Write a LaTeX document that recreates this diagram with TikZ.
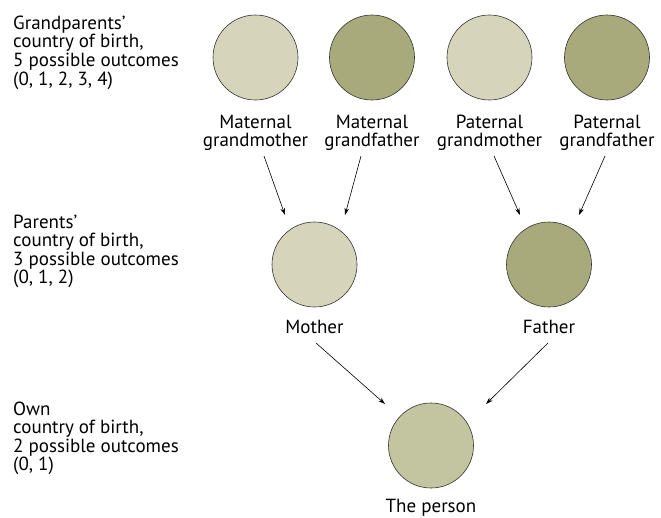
\documentclass[tikz,border=0pt]{standalone}
\usepackage{fontspec}
\setmainfont{PT Sans}
\usetikzlibrary{arrows.meta}
\definecolor{light}{HTML}{D6D5BC}
\definecolor{dark}{HTML}{A9AA7C}
\definecolor{mid}{HTML}{C3C4A0}
\begin{document}
\begin{tikzpicture}[x=1pt,y=-1pt,
  person/.style={circle,draw=black!80,line width=0.6pt,minimum size=85pt,inner sep=0pt},
  lbl/.style={align=center,anchor=base,font=\fontsize{19}{18.4}\selectfont,inner sep=0pt},
  side/.style={align=left,anchor=base west,font=\fontsize{19}{18.6}\selectfont,inner sep=0pt},
  arr/.style={-{Stealth[length=7pt,width=4.5pt]},line width=0.6pt}]
\useasboundingbox (0,0) rectangle (661,517);
% top row
\node[person,fill=light] (mgm) at (255.5,57.5) {};
\node[person,fill=dark] (mgf) at (372,57.5) {};
\node[person,fill=light] (pgm) at (489.5,57.5) {};
\node[person,fill=dark] (pgf) at (607,57.5) {};
\node[lbl] (lmgm) at (255.5,146.7) {Maternal\\grandmother};
\node[lbl] (lmgf) at (372,146.7) {Maternal\\grandfather};
\node[lbl] (lpgm) at (489.5,146.7) {Paternal\\grandmother};
\node[lbl] (lpgf) at (607,146.7) {Paternal\\grandfather};
% parents
\node[person,fill=light] (mo) at (314.5,264.5) {};
\node[person,fill=dark] (fa) at (549,264.5) {};
\node[lbl] (lmo) at (314.5,333) {Mother};
\node[lbl] (lfa) at (549,333) {Father};
% person
\node[person,fill=mid] (me) at (431,445.5) {};
\node[lbl] (lme) at (431,512.7) {The person};
% arrows
\coordinate (a1) at (264,156); \coordinate (b1) at (285,215);
\coordinate (a2) at (361,156); \coordinate (b2) at (345,215);
\coordinate (a3) at (494,156); \coordinate (b3) at (520,215);
\coordinate (a4) at (605,156); \coordinate (b4) at (579,215);
\coordinate (a5) at (316,343); \coordinate (b5) at (385,404);
\coordinate (a6) at (548,343); \coordinate (b6) at (486,404);
\draw[arr] (a1) -- (b1);
\draw[arr] (a2) -- (b2);
\draw[arr] (a3) -- (b3);
\draw[arr] (a4) -- (b4);
\draw[arr] (a5) -- (b5);
\draw[arr] (a6) -- (b6);
% side texts
\node[side] (t1) at (13,85.1) {Grandparents’\\country of birth,\\5 possible outcomes\\(0, 1, 2, 3, 4)};
\node[side] (t2) at (13,283.8) {Parents’\\country of birth,\\3 possible outcomes\\(0, 1, 2)};
\node[side] (t3) at (13,470.8) {Own\\country of birth,\\2 possible outcomes\\(0, 1)};
\end{tikzpicture}
\end{document}
